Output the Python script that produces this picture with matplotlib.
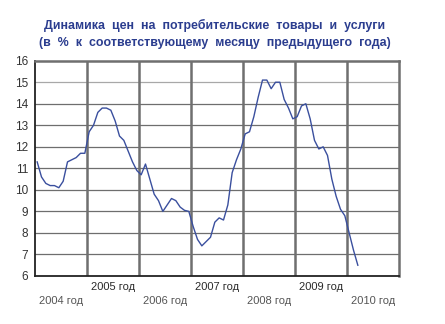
import matplotlib.pyplot as plt
import matplotlib.transforms as mtransforms

# месячные значения ИПЦ, % к соответствующему месяцу предыдущего года
cpi_2004 = [11.3, 10.6, 10.3, 10.2, 10.2, 10.1, 10.4, 11.3, 11.4, 11.5, 11.7, 11.7]
cpi_2005 = [12.7, 13.0, 13.6, 13.8, 13.8, 13.7, 13.2, 12.5, 12.3, 11.8, 11.3, 10.9]
cpi_2006 = [10.7, 11.2, 10.5, 9.8, 9.5, 9.0, 9.3, 9.6, 9.5, 9.2, 9.05, 9.0]
cpi_2007 = [8.3, 7.7, 7.4, 7.6, 7.8, 8.5, 8.7, 8.6, 9.3, 10.8, 11.4, 11.9]
cpi_2008 = [12.6, 12.7, 13.4, 14.3, 15.1, 15.1, 14.7, 15.0, 15.0, 14.2, 13.8, 13.3]
cpi_2009 = [13.4, 13.9, 14.0, 13.3, 12.3, 11.9, 12.0, 11.6, 10.5, 9.7, 9.1, 8.8]
cpi_2010 = [8.0, 7.2, 6.5]

years = [2004, 2005, 2006, 2007, 2008, 2009, 2010]
year_labels = ["2004 год", "2005 год", "2006 год", "2007 год",
               "2008 год", "2009 год", "2010 год"]

values = cpi_2004 + cpi_2005 + cpi_2006 + cpi_2007 + cpi_2008 + cpi_2009 + cpi_2010
months = [years[0] + (i + 0.5) / 12 for i in range(len(values))]

plt.rcParams["font.family"] = ["Liberation Sans", "DejaVu Sans"]

fig = plt.figure(figsize=(4.45, 3.24), dpi=100)
ax = fig.add_axes([35 / 445, 48 / 324, 364 / 445, 215.3 / 324])

ax.plot(months, values, color="#3a4f9e", linewidth=1.0)

ax.set_xlim(2004, 2011)
ax.set_ylim(6, 16)
ax.set_yticks(range(6, 17))
ax.set_xticks([])
ax.tick_params(axis="y", length=0, pad=5, labelsize=8.5, labelcolor="#333333")

for v in range(7, 16):
    ax.axhline(v, color="#6e6e6e" if v != 15 else "#a8a8a8", linewidth=0.9, zorder=0)
for yr in years[1:]:
    ax.axvline(yr, color="#6f6f6f", linewidth=1.8, zorder=0)

for side in ("top", "right"):
    ax.spines[side].set_color("#6f6f6f")
    ax.spines[side].set_linewidth(1.8)
for side in ("left", "bottom"):
    ax.spines[side].set_color("#222222")
    ax.spines[side].set_linewidth(1.3)

# подписи лет в два ряда: нечётные сверху, чётные снизу
trans = mtransforms.blended_transform_factory(ax.transData, fig.transFigure)
for k, (yr, lab) in enumerate(zip(years, year_labels)):
    upper = k % 2 == 1
    ax.text(yr + 0.5, (324 - 287) / 324 if upper else (324 - 301) / 324, lab,
            transform=trans, ha="center", va="center", fontsize=8,
            color="#2a2a2a" if upper else "#555555", clip_on=False)

title_kw = dict(ha="center", va="center", fontsize=8.9, fontweight="bold", color="#2b3d8f")
fig.text(215 / 445, 1 - 25 / 324, "Динамика  цен  на  потребительские  товары  и  услуги", **title_kw)
fig.text(215 / 445, 1 - 43 / 324, "(в  %  к  соответствующему  месяцу  предыдущего  года)", **title_kw)

fig.savefig("out.png", dpi=100)
